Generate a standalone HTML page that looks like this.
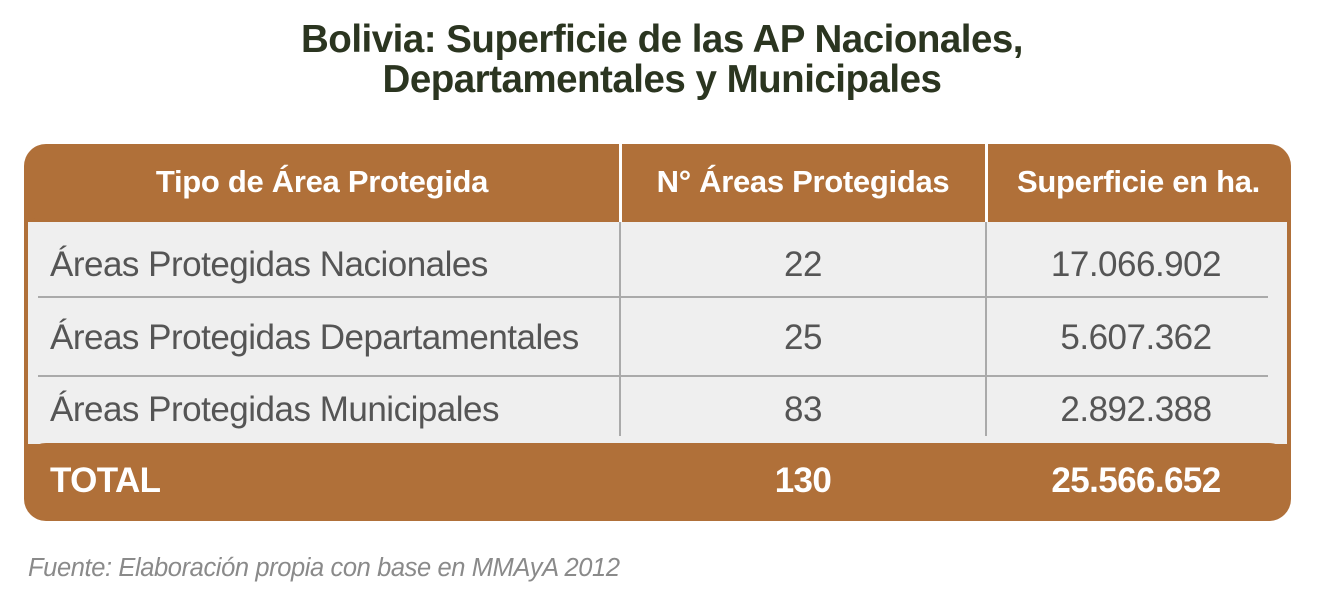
<!DOCTYPE html>
<html><head><meta charset="utf-8"><style>
body{margin:0;width:1324px;height:608px;background:#fff;position:relative;overflow:hidden;font-family:"Liberation Sans",sans-serif}
.a{position:absolute;white-space:nowrap}
.t{left:0;width:1324px;text-align:center;font-weight:bold;font-size:38.5px;color:#2b3520;letter-spacing:-0.5px}
.frame{left:24px;top:150px;width:1267px;height:365px;background:#b07039;border-radius:20px}
.body{left:28px;top:222px;width:1259px;height:222px;background:#efefef}
.hdr{left:24px;top:144px;width:1267px;height:78px;background:#b07039;border-radius:22px 22px 0 22px}
.tot{left:24px;top:443px;width:1267px;height:78px;background:#b07039;border-radius:22px}
.h{color:#fff;font-size:31px;font-weight:bold;top:164px;letter-spacing:-0.3px}
.c{color:#555;font-size:35px;letter-spacing:-0.5px}
.w{color:#fff;font-size:35px;font-weight:bold;top:461px;letter-spacing:-0.6px}
.vl{width:2px;background:#aaa}
.hl{left:38px;width:1230px;height:2px;background:#aaa}
</style></head><body>
<div class="a t" style="top:18px">Bolivia: Superficie de las AP Nacionales,</div>
<div class="a t" style="top:58px">Departamentales y Municipales</div>
<div class="a frame"></div>
<div class="a body"></div>
<div class="a hdr"></div>
<div class="a tot"></div>
<div class="a" style="left:619px;top:144px;width:3px;height:78px;background:#fff"></div>
<div class="a" style="left:985px;top:144px;width:3px;height:78px;background:#fff"></div>
<div class="a vl" style="left:619px;top:222px;height:214px"></div>
<div class="a vl" style="left:985px;top:222px;height:214px"></div>
<div class="a hl" style="top:296px"></div>
<div class="a hl" style="top:375px"></div>
<div class="a h" style="left:24px;width:596px;text-align:center">Tipo de Área Protegida</div>
<div class="a h" style="left:620px;width:366px;text-align:center">N° Áreas Protegidas</div>
<div class="a h" style="left:986px;width:305px;text-align:center">Superficie en ha.</div>
<div class="a c" style="left:50px;top:245px">Áreas Protegidas Nacionales</div>
<div class="a c" style="left:50px;top:318px">Áreas Protegidas Departamentales</div>
<div class="a c" style="left:50px;top:390px">Áreas Protegidas Municipales</div>
<div class="a c" style="left:620px;width:366px;text-align:center;top:245px">22</div>
<div class="a c" style="left:620px;width:366px;text-align:center;top:318px">25</div>
<div class="a c" style="left:620px;width:366px;text-align:center;top:390px">83</div>
<div class="a c" style="left:986px;width:300px;text-align:center;top:245px">17.066.902</div>
<div class="a c" style="left:986px;width:300px;text-align:center;top:318px">5.607.362</div>
<div class="a c" style="left:986px;width:300px;text-align:center;top:390px">2.892.388</div>
<div class="a w" style="left:50px">TOTAL</div>
<div class="a w" style="left:620px;width:366px;text-align:center">130</div>
<div class="a w" style="left:986px;width:300px;text-align:center">25.566.652</div>
<div class="a" style="left:28px;top:554px;font-size:25.5px;font-style:italic;color:#8a8a8a;letter-spacing:-0.4px">Fuente: Elaboración propia con base en MMAyA 2012</div>
</body></html>
